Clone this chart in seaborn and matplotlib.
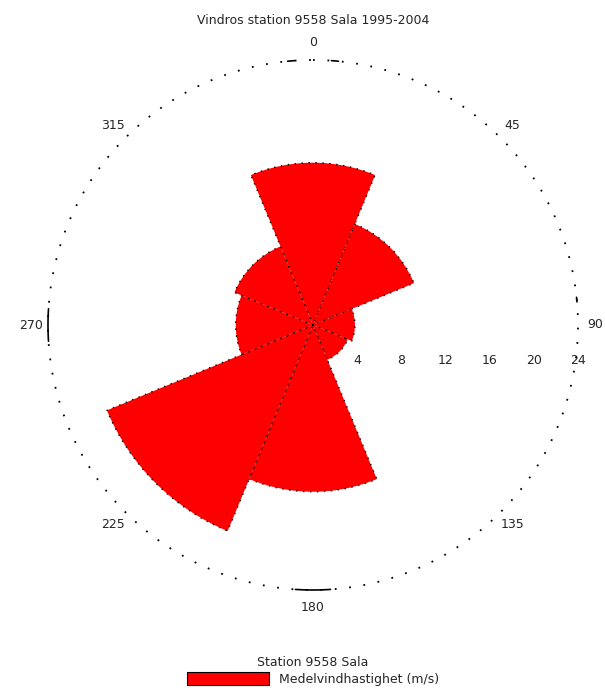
import numpy as np
import matplotlib
matplotlib.use("Agg")
import matplotlib.pyplot as plt
from matplotlib.transforms import ScaledTranslation
from matplotlib.patches import Patch
import seaborn as sns

# Wind rose: 8 direction sectors (degrees, clockwise from north)
directions = [0, 45, 90, 135, 180, 225, 270, 315]
values = [14.7, 9.9, 3.8, 3.4, 15.1, 20.2, 7.0, 7.7]
direction_labels = ["0", "45", "90", "135", "180", "225", "270", "315"]
radial_ticks = [4, 8, 12, 16, 20, 24]

title = "Vindros station 9558 Sala 1995-2004"
legend_title = "Station 9558 Sala"
series_label = "Medelvindhastighet (m/s)"

sns.set_style("white")
plt.rcParams["font.family"] = ["DejaVu Sans"]

fig = plt.figure(figsize=(6.05, 6.91), dpi=100)
ax = fig.add_axes([48 / 605, 101 / 691, 530 / 605, 530 / 691], projection="polar")
ax.set_theta_zero_location("N")
ax.set_theta_direction(-1)
ax.set_ylim(0, 24)

theta = np.deg2rad(directions)
width = np.deg2rad(45)
ax.bar(theta, values, width=width, align="center", color="red",
       edgecolor="black", linewidth=1.0, linestyle=(0, (1, 4)),
       label=series_label, zorder=3)

ax.grid(False)
ax.spines["polar"].set_visible(False)

# dotted outer circle
circ = np.linspace(0, 2 * np.pi, 721)
ax.plot(circ, np.full_like(circ, 24), color="black", linewidth=1.3,
        linestyle=(0, (1, 7)), zorder=2, clip_on=False)
# short solid marks on the outer circle
for a0, a1 in [(176.2, 183.8), (266.5, 273.5), (354.5, 356.0), (4.0, 5.5), (84.0, 85.0)]:
    seg = np.deg2rad(np.linspace(a0, a1, 20))
    ax.plot(seg, np.full_like(seg, 24), color="black", linewidth=1.2,
            zorder=2, clip_on=False)

ax.set_xticks(np.deg2rad(directions))
ax.set_xticklabels(direction_labels, fontsize=9)
ax.tick_params(axis="x", pad=2)

ax.set_yticks(radial_ticks)
ax.set_yticklabels([str(t) for t in radial_ticks], fontsize=9)
ax.set_rlabel_position(90)
shift = ScaledTranslation(0, -0.35, fig.dpi_scale_trans)
for lbl in ax.get_yticklabels():
    lbl.set_transform(lbl.get_transform() + shift)
    lbl.set_horizontalalignment("center")
    lbl.set_verticalalignment("center")

fig.text(313 / 605, 1 - 20 / 691, title, ha="center", va="center", fontsize=9)

handle = Patch(facecolor="red", edgecolor="black", linewidth=0.8)
fig.legend([handle], [series_label], title=legend_title, loc="center",
           bbox_to_anchor=(313 / 605, 1 - 671 / 691), frameon=False,
           fontsize=9, title_fontsize=9, handlelength=6.6, handleheight=1.2,
           handletextpad=0.8, borderpad=0.1, labelspacing=0.2)

fig.savefig("out.png", dpi=100)
